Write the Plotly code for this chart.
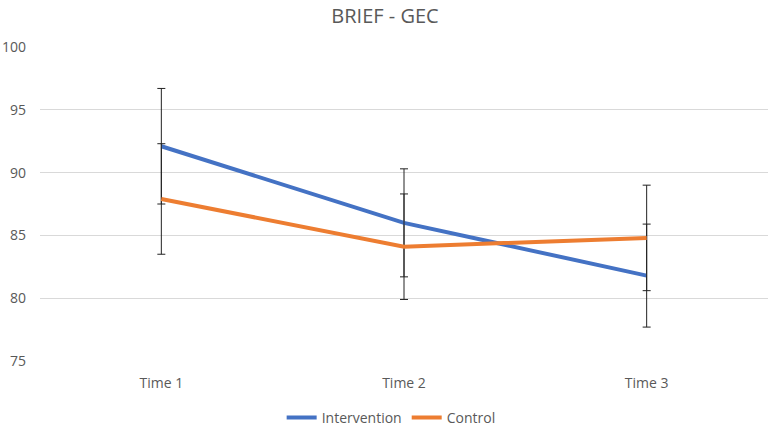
import plotly.graph_objects as go

categories = ["Time 1", "Time 2", "Time 3"]
intervention = [92.1, 86.0, 81.8]
intervention_err = [4.6, 4.3, 4.1]
control = [87.9, 84.1, 84.8]
control_err = [4.4, 4.2, 4.2]

fig = go.Figure()
fig.add_trace(go.Scatter(
    x=categories, y=intervention, name="Intervention", mode="lines",
    line=dict(color="#4472C4", width=4),
    error_y=dict(type="data", array=intervention_err, visible=True,
                 color="#222222", thickness=1, width=4),
))
fig.add_trace(go.Scatter(
    x=categories, y=control, name="Control", mode="lines",
    line=dict(color="#ED7D31", width=4),
    error_y=dict(type="data", array=control_err, visible=True,
                 color="#222222", thickness=1, width=4),
))

fig.update_layout(
    width=770, height=426,
    margin=dict(l=40, r=2, t=47, b=65),
    paper_bgcolor="white", plot_bgcolor="white",
    font=dict(family="Open Sans, Calibri, sans-serif", color="#595959", size=14),
    title=dict(text="BRIEF - GEC", x=0.5, xanchor="center", y=0.962, yanchor="middle",
               font=dict(size=20, color="#595959")),
    xaxis=dict(type="category", range=[-0.5, 2.5], showgrid=False, showline=False,
               ticks="", tickfont=dict(size=14, color="#595959"), ticklabelstandoff=12),
    yaxis=dict(range=[75, 100], dtick=5, showgrid=True, gridcolor="#D9D9D9",
               gridwidth=1, zeroline=False, showline=False, ticks="",
               tickfont=dict(size=14, color="#595959"), ticklabelstandoff=13),
    legend=dict(orientation="h", xref="container", x=0.508, xanchor="center",
                yref="container", y=0.019, yanchor="middle",
                font=dict(size=14, color="#595959"), tracegroupgap=0),
    showlegend=True,
)

fig.write_html("out.html", config={"displayModeBar": False},
               post_script="document.body.style.margin='0';")
